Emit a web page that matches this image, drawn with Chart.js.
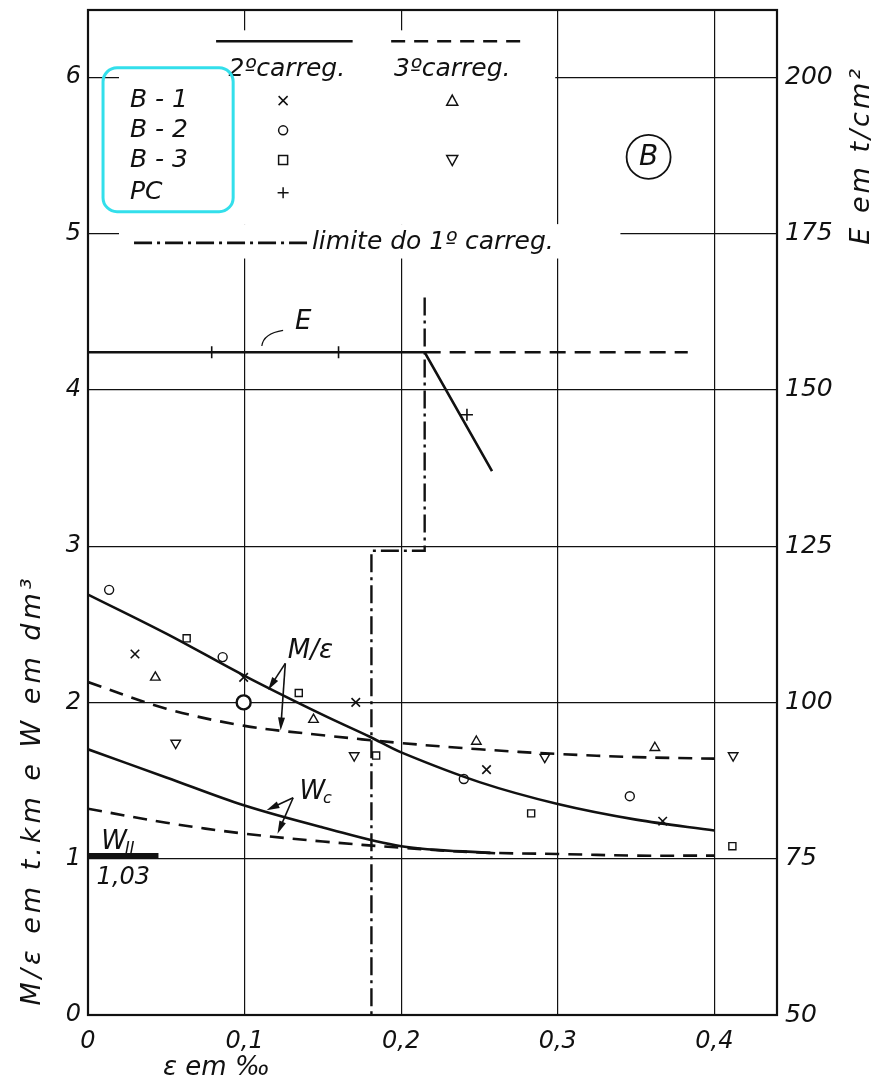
<!DOCTYPE html>
<html>
<head>
<meta charset="utf-8">
<script src="https://cdn.jsdelivr.net/npm/chart.js"></script>
<style>
 body { margin:0; background:#fff; }
 #box { width:883px; height:1082px; }
</style>
</head>
<body>
<div id="box"><canvas id="chart"></canvas></div>
<script>
// -------------------------------------------------------------------------//
//                              D A T A                                      //
// -------------------------------------------------------------------------//

// tick labels
var xTickLabels = ["0", "0,1", "0,2", "0,3", "0,4"];
var yTickLabels = ["0", "1", "2", "3", "4", "5", "6"];
var eTickLabels = ["50", "75", "100", "125", "150", "175", "200"];

// M/ε (t.km) - 2º carreg. (solid) and 3º carreg. (dashed)
var mSolidX = [0, 0.05, 0.1, 0.15, 0.18, 0.2, 0.25, 0.3, 0.35, 0.4];
var mSolidY = [2.69, 2.44, 2.17, 1.92, 1.78, 1.68, 1.49, 1.35, 1.25, 1.18];
var mDashX  = [0, 0.05, 0.1, 0.15, 0.2, 0.25, 0.3, 0.35, 0.4];
var mDashY  = [2.13, 1.96, 1.85, 1.79, 1.74, 1.70, 1.67, 1.65, 1.64];

// Wc (dm3)
var wSolidX = [0, 0.05, 0.1, 0.15, 0.2, 0.26];
var wSolidY = [1.70, 1.52, 1.34, 1.20, 1.08, 1.035];
var wDashX  = [0, 0.05, 0.1, 0.15, 0.2, 0.25, 0.3, 0.35, 0.4];
var wDashY  = [1.32, 1.23, 1.16, 1.11, 1.07, 1.04, 1.03, 1.02, 1.02];

// W II
var wIIX = [0, 0.045];
var wIIY = [1.02, 1.02];

// E (t/cm2)
var eSolidX = [0, 0.215, 0.258];
var eSolidY = [156, 156, 137];
var eDashX  = [0.215, 0.383];
var eDashY  = [156, 156];

// limite do 1º carreg.
var limX = [0.215, 0.215, 0.181, 0.181];
var limY = [4.59, 2.97, 2.97, 0];

// measured points
var b1SecondX = [0.030, 0.0994, 0.171, 0.2545, 0.367];
var b1SecondY = [2.31, 2.16, 2.00, 1.57, 1.24];
var b2SecondX = [0.0135, 0.086, 0.0994, 0.240, 0.346];
var b2SecondY = [2.72, 2.29, 2.00, 1.51, 1.40];
var b3SecondX = [0.063, 0.1346, 0.184, 0.283, 0.4115];
var b3SecondY = [2.41, 2.06, 1.66, 1.29, 1.08];
var b1ThirdX  = [0.043, 0.144, 0.248, 0.362];
var b1ThirdY  = [2.16, 1.89, 1.75, 1.71];
var b3ThirdX  = [0.056, 0.170, 0.2917, 0.412];
var b3ThirdY  = [1.74, 1.66, 1.65, 1.66];
var pcX       = [0.079, 0.160, 0.242];
var pcE       = [156, 156, 146];



// -------------------------------------------------------------------------//
//                              H E L P E R S                                //
// -------------------------------------------------------------------------//

var FAMILY = "'DejaVu Sans', sans-serif";
var INK    = "#111";

function Font(size)
{
 return "italic " + size + "px " + FAMILY;
}


function Points(xs, ys)
{
 return xs.map(function(x, i){ return {x:x, y:ys[i]}; });
}


function Curve(label, xs, ys, options)
{
 options = options || {};
 
 var set                    = {};
 set["label"]               = label;
 set["data"]                = Points(xs, ys);
 set["showLine"]            = true;
 set["borderColor"]         = INK;
 set["backgroundColor"]     = INK;
 set["borderWidth"]         = options.width || 2.6;
 set["borderDash"]          = options.dash || [];
 set["pointRadius"]         = 0;
 set["yAxisID"]             = options.axis || "y";
 set["tension"]             = options.smooth ? 0.35 : 0;
 
 return set;
}


function Marks(label, xs, ys, style, extra)
{
 var set                = {};
 set["label"]           = label;
 set["data"]            = Points(xs, ys);
 set["showLine"]        = false;
 set["pointStyle"]      = style;
 set["pointRadius"]     = 4.5;
 set["borderColor"]     = INK;
 set["backgroundColor"] = "#fff";
 set["borderWidth"]     = 1.4;
 set["yAxisID"]         = "y";
 
 for(var key in extra || {}) set[key] = extra[key];
 
 return set;
}


function Draw_Mark(ctx, kind, cx, cy, r)
{
 ctx.beginPath();
 if(kind == "x")
 {
  ctx.moveTo(cx - r, cy - r); ctx.lineTo(cx + r, cy + r);
  ctx.moveTo(cx + r, cy - r); ctx.lineTo(cx - r, cy + r);
 }
 else if(kind == "+")
 {
  ctx.moveTo(cx - r - 1, cy); ctx.lineTo(cx + r + 1, cy);
  ctx.moveTo(cx, cy - r - 1); ctx.lineTo(cx, cy + r + 1);
 }
 else if(kind == "o")
 {
  ctx.arc(cx, cy, r, 0, Math.PI * 2);
 }
 else if(kind == "s")
 {
  ctx.rect(cx - r, cy - r, 2 * r, 2 * r);
 }
 else if(kind == "up")
 {
  ctx.moveTo(cx, cy - r - 1); ctx.lineTo(cx + r + 1, cy + r); ctx.lineTo(cx - r - 1, cy + r); ctx.closePath();
 }
 else if(kind == "down")
 {
  ctx.moveTo(cx, cy + r + 1); ctx.lineTo(cx + r + 1, cy - r); ctx.lineTo(cx - r - 1, cy - r); ctx.closePath();
 }
 ctx.stroke();
}


function Draw_Arrow(ctx, x0, y0, x1, y1)
{
 var a = Math.atan2(y1 - y0, x1 - x0);
 ctx.beginPath();
 ctx.moveTo(x0, y0);
 ctx.lineTo(x1 - 8 * Math.cos(a), y1 - 8 * Math.sin(a));
 ctx.stroke();
 
 ctx.beginPath();
 ctx.moveTo(x1, y1);
 ctx.lineTo(x1 - 13 * Math.cos(a) + 3.5 * Math.sin(a), y1 - 13 * Math.sin(a) - 3.5 * Math.cos(a));
 ctx.lineTo(x1 - 13 * Math.cos(a) - 3.5 * Math.sin(a), y1 - 13 * Math.sin(a) + 3.5 * Math.cos(a));
 ctx.closePath();
 ctx.fill();
}


function Draw_Sub(ctx, main, sub, x, y, size)
{
 ctx.textAlign    = "left";
 ctx.textBaseline = "alphabetic";
 ctx.font         = Font(size);
 var w            = ctx.measureText(main).width;
 ctx.fillText(main, x, y);
 ctx.font         = Font(Math.round(size * 0.62));
 ctx.fillText(sub, x + w - 2, y + 4);
}



// -------------------------------------------------------------------------//
//                     D R A W I N G   P L U G I N                           //
// -------------------------------------------------------------------------//

var Sketch =
{
 id: "sketch",
 
 beforeDatasetsDraw: function(chart)
 {
  var ctx  = chart.ctx;
  var sx   = chart.scales.x;
  var sy   = chart.scales.y;
  var X    = function(v){ return sx.getPixelForValue(v); };
  var Y    = function(v){ return sy.getPixelForValue(v); };
  
  // GAPS IN THE GRID BEHIND THE KEY
  var gaps = [[0.0198, 0.2984, 5.06, 6.30], [0.0198, 0.34, 4.84, 5.06]];
  ctx.save();
  ctx.fillStyle = "#fff";
  for(var g of gaps) ctx.fillRect(X(g[0]), Y(g[3]), X(g[1]) - X(g[0]), Y(g[2]) - Y(g[3]));
  ctx.restore();
 },
 
 
 afterDatasetsDraw: function(chart)
 {
  var ctx  = chart.ctx;
  var area = chart.chartArea;
  var sx   = chart.scales.x;
  var sy   = chart.scales.y;
  var X    = function(v){ return sx.getPixelForValue(v); };
  var Y    = function(v){ return sy.getPixelForValue(v); };
  
  ctx.save();
  ctx.strokeStyle = INK;
  ctx.fillStyle   = INK;
  
  // FRAME
  ctx.lineWidth = 2.2;
  ctx.strokeRect(area.left, area.top, area.right - area.left, area.bottom - area.top);
  
  // KEY: LINE STYLES
  ctx.lineWidth = 2.6;
  ctx.beginPath(); ctx.moveTo(X(0.0818), Y(6.23)); ctx.lineTo(X(0.169), Y(6.23)); ctx.stroke();
  ctx.setLineDash([14, 9]);
  ctx.beginPath(); ctx.moveTo(X(0.1936), Y(6.23)); ctx.lineTo(X(0.281), Y(6.23)); ctx.stroke();
  ctx.setLineDash([18, 5, 3, 5]);
  ctx.beginPath(); ctx.moveTo(X(0.0294), Y(4.94)); ctx.lineTo(X(0.141), Y(4.94)); ctx.stroke();
  ctx.setLineDash([]);
  
  ctx.textBaseline = "middle";
  ctx.textAlign    = "center";
  ctx.font         = Font(25);
  ctx.fillText("2ºcarreg.", X(0.127), Y(6.05));
  ctx.fillText("3ºcarreg.", X(0.2326), Y(6.05));
  ctx.textAlign    = "left";
  ctx.fillText("limite do 1º carreg.", X(0.143), Y(4.94));
  
  // KEY: SERIES
  var rows = [["B - 1", 5.85, "x", "up"], ["B - 2", 5.66, "o", null], ["B - 3", 5.47, "s", "down"], ["PC", 5.26, "+", null]];
  ctx.font      = Font(25);
  ctx.lineWidth = 1.5;
  for(var row of rows)
  {
   ctx.fillText(row[0], X(0.0268), Y(row[1]));
   Draw_Mark(ctx, row[2], X(0.1246), Y(row[1]), 4.5);
   if(row[3]) Draw_Mark(ctx, row[3], X(0.2326), Y(row[1]), 4.5);
  }
  
  // HIGHLIGHT BOX
  var bx = X(0.0096), by = Y(6.06), bw = X(0.0927) - bx, bh = Y(5.14) - by, rr = 14;
  ctx.strokeStyle = "#33dfeb";
  ctx.lineWidth   = 3;
  ctx.beginPath();
  ctx.moveTo(bx + rr, by);
  ctx.arcTo(bx + bw, by, bx + bw, by + bh, rr);
  ctx.arcTo(bx + bw, by + bh, bx, by + bh, rr);
  ctx.arcTo(bx, by + bh, bx, by, rr);
  ctx.arcTo(bx, by, bx + bw, by, rr);
  ctx.closePath();
  ctx.stroke();
  ctx.strokeStyle = INK;
  
  // CIRCLED B
  ctx.lineWidth = 1.8;
  ctx.beginPath(); ctx.arc(X(0.358), Y(5.49), 22, 0, Math.PI * 2); ctx.stroke();
  ctx.textAlign = "center";
  ctx.font      = Font(28);
  ctx.fillText("B", X(0.358), Y(5.49) + 1);
  
  // CURVE LABELS
  ctx.font = Font(26);
  ctx.fillText("E", X(0.1374), Y(4.43));
  ctx.lineWidth = 1.2;
  ctx.beginPath();
  ctx.moveTo(X(0.1246), Y(4.38));
  ctx.quadraticCurveTo(X(0.112), Y(4.36), X(0.111), Y(4.28));
  ctx.stroke();
  
  ctx.fillText("M/ε", X(0.142), Y(2.33));
  Draw_Sub(ctx, "W", "c", X(0.135), Y(1.38), 26);
  Draw_Sub(ctx, "W", "II", X(0.0085), Y(1.06), 26);
  ctx.font      = Font(24);
  ctx.textAlign = "left";
  ctx.textBaseline = "middle";
  ctx.fillText("1,03", X(0.0055), Y(0.88));
  
  // ARROWS
  ctx.lineWidth = 1.6;
  Draw_Arrow(ctx, X(0.126), Y(2.25), X(0.115), Y(2.08));
  Draw_Arrow(ctx, X(0.126), Y(2.25), X(0.123), Y(1.82));
  Draw_Arrow(ctx, X(0.131), Y(1.39), X(0.114), Y(1.31));
  Draw_Arrow(ctx, X(0.131), Y(1.39), X(0.121), Y(1.16));
  
  // AXIS TITLES
  ctx.font         = Font(27);
  ctx.textAlign    = "center";
  ctx.textBaseline = "middle";
  
  ctx.save();
  ctx.translate(33, Y(1.44));
  ctx.rotate(-Math.PI / 2);
  ctx.letterSpacing = "4px";
  ctx.fillText("M/ε em t.km e W em dm³", 0, 0);
  ctx.restore();
  
  ctx.save();
  ctx.translate(862, Y(5.5));
  ctx.rotate(-Math.PI / 2);
  ctx.letterSpacing = "3px";
  ctx.fillText("E em t/cm²", 0, 0);
  ctx.restore();
  
  ctx.textAlign = "left";
  ctx.font      = Font(26);
  ctx.fillText("ε em ‰", 163, 1068);
  
  ctx.restore();
 }
};



// -------------------------------------------------------------------------//
//                              C H A R T                                    //
// -------------------------------------------------------------------------//

var datasets =
[
 Curve("M/ε 2º",  mSolidX, mSolidY, {smooth:true}),
 Curve("M/ε 3º",  mDashX,  mDashY,  {smooth:true, dash:[14, 9]}),
 Curve("Wc 2º",   wSolidX, wSolidY, {smooth:true}),
 Curve("Wc 3º",   wDashX,  wDashY,  {smooth:true, dash:[14, 9]}),
 Curve("W II",    wIIX,    wIIY,    {width:5}),
 Curve("E 2º",    eSolidX, eSolidY, {axis:"y2"}),
 Curve("E 3º",    eDashX,  eDashY,  {axis:"y2", dash:[16, 9]}),
 Curve("limite",  limX,    limY,    {width:2.4, dash:[18, 5, 3, 5]}),
 
 Marks("B-1 2º", b1SecondX, b1SecondY, "crossRot", {pointRadius:6, borderWidth:1.6}),
 Marks("B-2 2º", b2SecondX, b2SecondY, "circle",
       {pointRadius: function(c){ return c.dataIndex == 2 ? 7 : 4.5; },
        borderWidth: function(c){ return c.dataIndex == 2 ? 2.4 : 1.4; }}),
 Marks("B-3 2º", b3SecondX, b3SecondY, "rect", {pointRadius:5}),
 Marks("B-1 3º", b1ThirdX,  b1ThirdY,  "triangle", {pointRadius:5.5}),
 Marks("B-3 3º", b3ThirdX,  b3ThirdY,  "triangle", {pointRadius:5.5, rotation:180}),
 Marks("PC",     pcX,       pcE,       "cross", {yAxisID:"y2", pointRadius:6, borderWidth:1.6})
];


var tickFont = {family:FAMILY, size:24, style:"italic"};

function Fit_Vertical(width)
{
 return function(s){ s.width = width; s.paddingTop = 0; s.paddingBottom = 0; };
}

var config =
{
 type: "scatter",
 data: {datasets},
 options:
 {
  responsive:          true,
  maintainAspectRatio: false,
  animation:           false,
  events:              [],
  layout:              {padding:{top:10, left:0, right:0, bottom:0}},
  plugins:             {legend:{display:false}, tooltip:{enabled:false}},
  scales:
  {
   x:
   {
    type: "linear", min: 0, max: 0.44,
    border: {display:false},
    grid:   {color:INK, lineWidth:1.2, drawTicks:false},
    ticks:  {stepSize:0.1, includeBounds:false, padding:12, color:INK, font:tickFont, maxRotation:0,
             callback: function(v){ return xTickLabels[Math.round(v / 0.1)]; }},
    afterFit: function(s){ s.height = 67; s.paddingLeft = 0; s.paddingRight = 0; }
   },
   y:
   {
    type: "linear", position: "left", min: 0, max: 6.43,
    border: {display:false},
    grid:   {color:INK, lineWidth:1.2, drawTicks:false},
    ticks:  {stepSize:1, includeBounds:false, padding:7, color:INK, font:tickFont,
             callback: function(v){ return yTickLabels[Math.round(v)]; }},
    afterFit: Fit_Vertical(88)
   },
   y2:
   {
    type: "linear", position: "right", min: 50, max: 210.75,
    border: {display:false},
    grid:   {display:false, drawTicks:false},
    ticks:  {stepSize:25, includeBounds:false, padding:8, color:INK, font:{family:FAMILY, size:25, style:"italic"},
             callback: function(v){ return eTickLabels[Math.round((v - 50) / 25)]; }},
    afterFit: Fit_Vertical(106)
   }
  }
 },
 plugins: [Sketch]
};


var chart = new Chart(document.getElementById("chart").getContext("2d"), config);
</script>
</body>
</html>
